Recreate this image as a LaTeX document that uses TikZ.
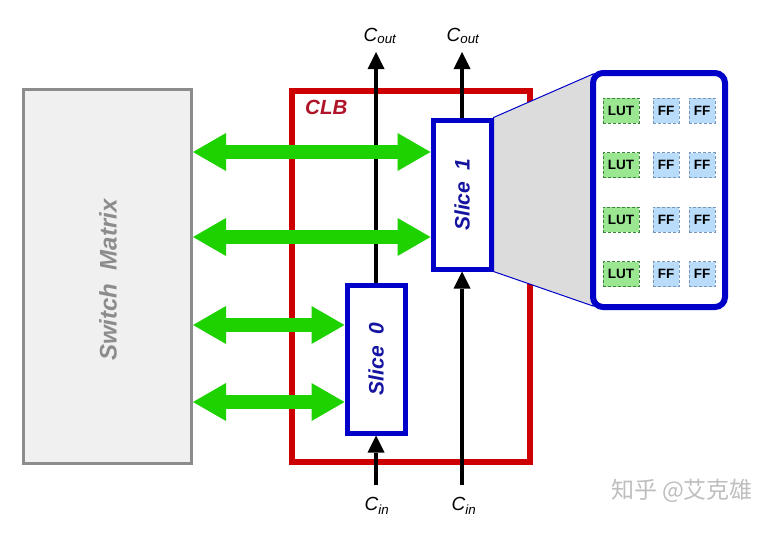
\documentclass[tikz,border=0pt]{standalone}
\usepackage{fontspec}
\setmainfont{Liberation Sans}
\newfontfamily\cjkfont{Noto Sans CJK SC}
\usetikzlibrary{arrows.meta}

\definecolor{smfill}{RGB}{240,240,240}
\definecolor{smgray}{RGB}{140,140,140}
\definecolor{clbred}{RGB}{204,0,0}
\definecolor{clbtext}{RGB}{175,20,40}
\definecolor{sliceblue}{RGB}{0,0,200}
\definecolor{slicetext}{RGB}{20,20,160}
\definecolor{busgreen}{RGB}{30,210,0}
\definecolor{fangray}{RGB}{220,220,220}
\definecolor{lutgreen}{RGB}{155,230,145}
\definecolor{lutborder}{RGB}{60,130,60}
\definecolor{ffblue}{RGB}{185,220,250}
\definecolor{ffborder}{RGB}{120,150,185}
\definecolor{markgray}{RGB}{190,190,190}

\pgfdeclarelayer{back}
\pgfdeclarelayer{mid}
\pgfsetlayers{back,mid,main}

\begin{document}
\begin{tikzpicture}
    [
    x=1pt,y=-1pt,
    switchbox/.style={draw=smgray,fill=smfill,line width=3pt,inner sep=0pt,minimum width=168pt,minimum height=374pt},
    clbbox/.style={draw=clbred,line width=6pt,inner sep=0pt,minimum width=238pt,minimum height=371pt},
    slicebox/.style={draw=sliceblue,fill=white,line width=5pt,inner sep=0pt,minimum width=58pt,minimum height=149pt},
    slicelabel/.style={rotate=90,text=slicetext,font=\fontsize{21}{25}\selectfont\bfseries\itshape},
    zoombox/.style={draw=sliceblue,fill=white,line width=6pt,rounded corners=10pt,inner sep=0pt,minimum width=132pt,minimum height=234pt},
    lut/.style={draw=lutborder,densely dashed,fill=lutgreen,inner sep=0pt,minimum width=36pt,minimum height=25pt,font=\fontsize{13.5}{15}\selectfont\bfseries},
    ff/.style={draw=ffborder,densely dashed,fill=ffblue,inner sep=0pt,minimum width=26pt,minimum height=25pt,font=\fontsize{13.5}{15}\selectfont\bfseries},
    bus/.style={draw=busgreen,line width=14pt,>={Triangle[width=38pt,length=33pt,line width=0pt]},<->},
    carry/.style={line width=3.5pt,>={Triangle[width=17pt,length=17pt,line width=0pt]},->},
    carrylabel/.style={inner sep=0pt,font=\fontsize{19}{22}\selectfont\itshape},
    fan/.style={draw=sliceblue,line width=1pt,fill=fangray}
    ]
    \begin{pgfonlayer}{back}
    \path [use as bounding box,fill=white] (0,0) rectangle (784,541);
    \node (sm) at (107.5,276.5) [switchbox] {};
    \node (clb) at (411,276.5) [clbbox] {};
    \end{pgfonlayer}
    \node (sm-label) at (108,280) [rotate=90,text=smgray,font=\fontsize{24}{28}\selectfont\bfseries\itshape] {Switch~~Matrix};
    \node (clb-label) at (305,100) [anchor=north west,inner sep=0pt,text=clbtext,font=\fontsize{20.5}{24}\selectfont\bfseries\itshape] {CLB};
    % slices and the zoomed slice
    \node (s0) at (376,359) [slicebox,minimum height=148pt] {};
    \node (s1) at (462,194.5) [slicebox] {};
    \node (s0-label) at (s0) [slicelabel] {Slice~~0};
    \node (s1-label) at (s1) [slicelabel] {Slice~~1};
    \node (zoom) at (659,190) [zoombox] {};
    \foreach \i/\y in {1/110.5,2/165,3/219.5,4/274}
    {
      \node (lut\i) at (621,\y) [lut] {LUT};
      \node (ffa\i) at (666,\y) [ff] {FF};
      \node (ffb\i) at (702,\y) [ff] {FF};
    }
    % carry chain
    \node (cout0) at (380,44) [carrylabel,anchor=south] {C\textsubscript{out}};
    \node (cout1) at (463,44) [carrylabel,anchor=south] {C\textsubscript{out}};
    \node (cin0) at (377,497) [carrylabel,anchor=north] {C\textsubscript{in}};
    \node (cin1) at (464,497) [carrylabel,anchor=north] {C\textsubscript{in}};
    \node (mark) at (682,491) [text=markgray,font=\cjkfont\fontsize{23}{26}\selectfont] {知乎 @艾克雄};
    \begin{pgfonlayer}{mid}
    \draw [fan] (s1.north east) -- ([shift={(3,4)}]zoom.north west) -- ([shift={(3,-4)}]zoom.south west) -- (s1.south east) -- cycle;
    \draw [carry] (s0.north) -- (s0.north |- cout0.south) [shorten >=8pt];
    \draw [carry] (s1.north) -- (s1.north |- cout1.south) [shorten >=8pt];
    \draw [carry,shorten <=12pt] (s0.south |- cin0.north) -- (s0.south);
    \draw [carry,shorten <=12pt] (s1.south |- cin1.north) -- (s1.south);
    \foreach \y in {152,237}
      \draw [bus] (sm.east |- 0,\y) -- (s1.west |- 0,\y);
    \foreach \y in {325,402}
      \draw [bus] (sm.east |- 0,\y) -- (s0.west |- 0,\y);
    \end{pgfonlayer}
  \end{tikzpicture}
\end{document}
